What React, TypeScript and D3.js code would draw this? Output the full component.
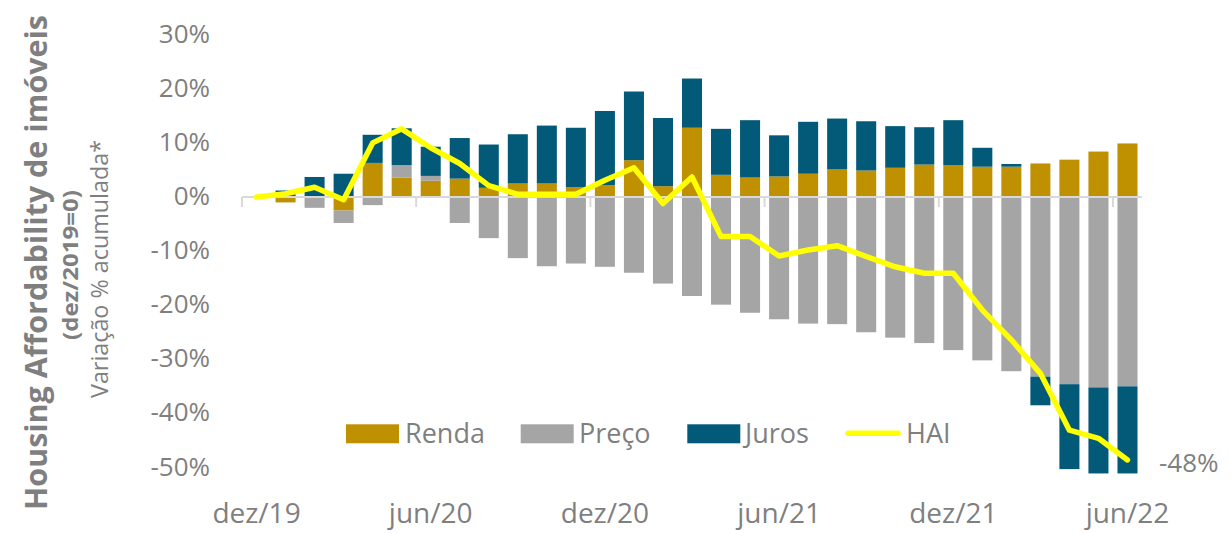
import React from "react";
import * as d3 from "d3";

const months = [
  "dez/19","jan/20","fev/20","mar/20","abr/20","mai/20","jun/20","jul/20","ago/20","set/20","out/20","nov/20",
  "dez/20","jan/21","fev/21","mar/21","abr/21","mai/21","jun/21","jul/21","ago/21","set/21","out/21","nov/21",
  "dez/21","jan/22","fev/22","mar/22","abr/22","mai/22","jun/22",
];
const tickMonths = ["dez/19", "jun/20", "dez/20", "jun/21", "dez/21", "jun/22"];
const renda = [0, -1.0, 0, -2.5, 6.3, 3.6, 3.0, 3.4, 1.7, 2.5, 2.5, 1.8, 2.2, 6.8, 2.0, 12.8, 4.1, 3.6, 3.8, 4.3, 5.1, 4.9, 5.4, 6.0, 5.9, 5.6, 5.6, 6.2, 6.9, 8.4, 9.9];
const preco = [0, 0, -2.0, -2.3, -1.5, 2.3, 0.9, -4.8, -7.6, -11.3, -12.8, -12.3, -12.9, -14.0, -16.0, -18.3, -19.9, -21.4, -22.6, -23.4, -23.5, -25.0, -26.0, -27.0, -28.3, -30.2, -32.2, -33.2, -34.6, -35.2, -35.0];
const juros = [0, 1.2, 3.7, 4.3, 5.2, 6.8, 5.4, 7.5, 8.0, 9.1, 10.7, 11.0, 13.7, 12.7, 12.6, 9.1, 8.5, 10.6, 7.6, 9.6, 9.4, 9.1, 7.7, 6.9, 8.3, 3.5, 0.5, -5.3, -15.7, -15.9, -16.1];
const hai = [0, 0.6, 1.8, -0.5, 10.0, 12.6, 9.1, 6.2, 2.1, 0.5, 0.5, 0.5, 3.1, 5.4, -1.2, 3.7, -7.3, -7.3, -10.9, -9.8, -9.0, -11.0, -12.9, -14.1, -14.1, -20.9, -26.4, -32.6, -43.1, -44.6, -48.6];
const yTicks = [30, 20, 10, 0, -10, -20, -30, -40, -50];
const seriesKeys = ["Renda", "Preço", "Juros"];
const lastLabel = "-48%";

const W = 1230, H = 534;
const COLORS: Record<string, string> = { Renda: "#BF9000", "Preço": "#A5A5A5", Juros: "#025A78", HAI: "#FFFF00" };
const TEXT = "#7F7F7F";
const FONT = "'Open Sans', sans-serif";

export default function App() {
  const x = d3.scaleBand<string>().domain(months).range([242, 1142]).paddingInner(0.31).paddingOuter(0.155);
  const y = d3.scaleLinear().domain([-50, 30]).range([467.5, 34.7]);
  const step = x.step();
  const bw = x.bandwidth();
  const cx = (m: string) => (x(m) as number) + bw / 2;

  const rows = months.map((m, i) => ({ month: m, Renda: renda[i], "Preço": preco[i], Juros: juros[i] }));
  const stacked = d3.stack<any>().keys(seriesKeys).offset(d3.stackOffsetDiverging)(rows);

  const line = d3.line<number>().x((_, i) => cx(months[i])).y((v) => y(v));
  const y0 = y(0);

  const legend = [
    { key: "Renda", x: 346, tx: 405 },
    { key: "Preço", x: 520.7, tx: 579 },
    { key: "Juros", x: 687.3, tx: 745 },
    { key: "HAI", x: 846, tx: 906, line: true },
  ];

  return (
    <svg width={W} height={H} style={{ position: "absolute", left: 0, top: 0, background: "#fff" }} fontFamily={FONT}>
      <rect width={W} height={H} fill="#fff" />
      {/* Y axis titles */}
      <text transform="translate(47,262.5) rotate(-90)" textAnchor="middle" fontWeight="bold" fontSize={31} fill={TEXT}
        textLength={495} lengthAdjust="spacingAndGlyphs">Housing Affordability de imóveis</text>
      <text transform="translate(78,265) rotate(-90)" textAnchor="middle" fontWeight="bold" fontSize={21} fill={TEXT}
        textLength={150} lengthAdjust="spacingAndGlyphs">(dez/2019=0)</text>
      <text transform="translate(108,269) rotate(-90)" textAnchor="middle" fontSize={23} fill={TEXT}
        textLength={258} lengthAdjust="spacingAndGlyphs">Variação % acumulada*</text>

      {/* Y tick labels */}
      {yTicks.map((t) => (
        <text key={t} x={210} y={y(t) + 8} textAnchor="end" fontSize={26} fill={TEXT}>{`${t}%`}</text>
      ))}

      {/* Bars */}
      {stacked.map((s) => (
        <g key={s.key} fill={COLORS[s.key]}>
          {s.map((d, i) => {
            const top = y(Math.max(d[0], d[1]));
            const bot = y(Math.min(d[0], d[1]));
            if (bot - top <= 0) return null;
            return <rect key={i} x={x(months[i])} y={top} width={bw} height={bot - top} />;
          })}
        </g>
      ))}

      {/* X axis */}
      <line x1={242} x2={1142} y1={y0} y2={y0} stroke="#D9D9D9" strokeWidth={2} />
      {tickMonths.map((m) => {
        const tx = (x(m) as number) - (step - bw) / 2;
        return <line key={m} x1={tx} x2={tx} y1={y0} y2={y0 + 10} stroke="#D9D9D9" strokeWidth={2} />;
      })}
      {tickMonths.map((m) => (
        <text key={m} x={cx(m)} y={523} textAnchor="middle" fontSize={28} fill={TEXT}>{m}</text>
      ))}

      {/* HAI line */}
      <path d={line(hai) as string} fill="none" stroke={COLORS.HAI} strokeWidth={5.5} strokeLinejoin="round" strokeLinecap="round" />
      <text x={1159} y={471.5} fontSize={26} fill={TEXT}>{lastLabel}</text>

      {/* Legend */}
      {legend.map((l) => (
        <g key={l.key}>
          {l.line ? (
            <line x1={l.x + 2} x2={l.x + 52} y1={433.3} y2={433.3} stroke={COLORS[l.key]} strokeWidth={5.5} strokeLinecap="round" />
          ) : (
            <rect x={l.x} y={424.3} width={53} height={19} fill={COLORS[l.key]} />
          )}
          <text x={l.tx} y={442.7} fontSize={27} fill={TEXT}>{l.key}</text>
        </g>
      ))}
    </svg>
  );
}
